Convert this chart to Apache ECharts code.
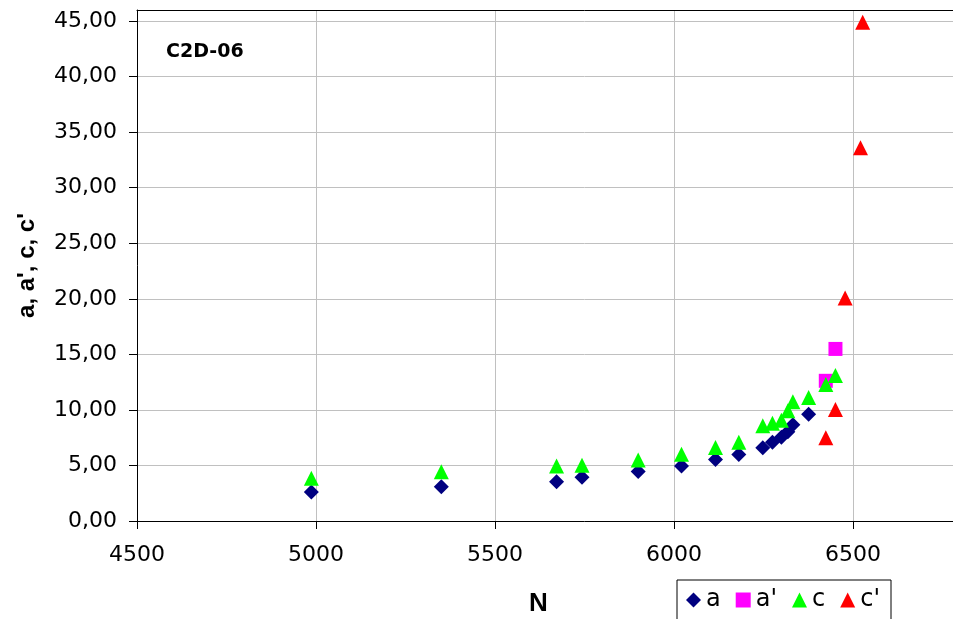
<!DOCTYPE html>
<html>
<head>
<meta charset="utf-8">
<script src="https://cdn.jsdelivr.net/npm/echarts@6/dist/echarts.min.js"></script>
<style>
  html, body { margin: 0; padding: 0; background: #ffffff; overflow: hidden; }
  /* the plot runs on past the right edge of the window */
  #chart { width: 1060px; height: 619px; }
</style>
</head>
<body>
<div id="chart"></div>
<script>
// Specimen C2D-06: a, a', c, c' against N
const nA   = [4987, 5350, 5672, 5743, 5900, 6021, 6116, 6181, 6248, 6275, 6300, 6318, 6332, 6376];
const aVals = [2.61, 3.08, 3.53, 3.93, 4.45, 4.95, 5.53, 5.98, 6.59, 7.08, 7.55, 8.03, 8.66, 9.62];

const nAp   = [6424, 6451];
const apVals = [12.62, 15.49];

const nC   = [4987, 5350, 5672, 5743, 5900, 6021, 6116, 6181, 6248, 6275, 6300, 6318, 6332, 6376, 6424, 6451];
const cVals = [3.85, 4.43, 4.95, 5.01, 5.50, 6.01, 6.61, 7.10, 8.57, 8.79, 9.08, 9.92, 10.73, 11.12, 12.29, 13.10];

const nCp   = [6424, 6451, 6478, 6521, 6527];
const cpVals = [7.49, 10.04, 20.08, 33.61, 44.90];

const seriesNames = ["a", "a'", "c", "c'"];
const xTicks = { min: 4500, max: 7000, step: 500 };
const yTicks = { min: 0, max: 46, step: 5 };

const TICK_FONT = "'DejaVu Sans', 'Liberation Sans', Arial, sans-serif";
const BOLD_FONT = "'Liberation Sans', Arial, sans-serif";

function pairs(xs, ys) { return xs.map((x, i) => [x, ys[i]]); }

const chart = echarts.init(document.getElementById('chart'));

chart.setOption({
  animation: false,
  grid: {
    left: 137, top: 10, width: 895, height: 511,
    containLabel: false,
    outerBoundsMode: 'none',
    show: false
  },
  xAxis: [
    {
      type: 'value',
      min: xTicks.min, max: xTicks.max, interval: xTicks.step,
      axisLine: { show: true, onZero: false, lineStyle: { color: '#000000', width: 1 } },
      axisTick: { show: true, inside: false, length: 8, lineStyle: { color: '#000000' } },
      axisLabel: {
        color: '#000000', fontFamily: TICK_FONT, fontSize: 22, margin: 23,
        formatter: v => String(v)
      },
      splitLine: { show: true, lineStyle: { color: '#c0c0c0', width: 1 } }
    },
    {
      // plain frame line along the top of the plot area
      type: 'value', position: 'top',
      min: xTicks.min, max: xTicks.max, interval: xTicks.step,
      axisLine: { show: true, onZero: false, lineStyle: { color: '#000000', width: 1 } },
      axisTick: { show: false }, axisLabel: { show: false }, splitLine: { show: false }
    }
  ],
  yAxis: {
    type: 'value',
    min: yTicks.min, max: yTicks.max, interval: yTicks.step,
    name: "a, a', c, c'",
    nameLocation: 'middle',
    nameGap: 98,
    nameRotate: 90,
    nameTextStyle: { color: '#000000', fontFamily: BOLD_FONT, fontSize: 24, fontWeight: 'bold' },
    axisLine: { show: true, onZero: false, lineStyle: { color: '#000000', width: 1 } },
    axisTick: { show: true, inside: false, length: 8, lineStyle: { color: '#000000' } },
    axisLabel: {
      color: '#000000', fontFamily: TICK_FONT, fontSize: 22, margin: 20,
      formatter: v => v.toFixed(2).replace('.', ','),
      showMaxLabel: false
    },
    splitLine: { show: true, lineStyle: { color: '#c0c0c0', width: 1 } }
  },
  legend: {
    data: seriesNames,
    left: 677, top: 580,
    orient: 'horizontal',
    itemWidth: 15, itemHeight: 15, itemGap: 15,
    padding: [8, 11, 30, 9],
    borderColor: '#000000', borderWidth: 1,
    backgroundColor: '#ffffff',
    textStyle: { color: '#000000', fontFamily: TICK_FONT, fontSize: 24, padding: [0, 0, 0, 0] }
  },
  graphic: [
    {
      type: 'text', left: 166, top: 43,
      style: { text: 'C2D-06', fill: '#000000', font: "bold 19px 'DejaVu Sans', sans-serif" }
    },
    {
      type: 'text', left: 529, top: 591,
      style: { text: 'N', fill: '#000000', font: "bold 26px 'Liberation Sans', Arial, sans-serif" }
    }
  ],
  series: [
    {
      name: "a", type: 'scatter', data: pairs(nA, aVals),
      symbol: 'diamond', symbolSize: 15,
      itemStyle: { color: '#000080', opacity: 1 }, z: 2
    },
    {
      name: "a'", type: 'scatter', data: pairs(nAp, apVals),
      symbol: 'rect', symbolSize: 14,
      itemStyle: { color: '#ff00ff', opacity: 1 }, z: 3
    },
    {
      name: "c", type: 'scatter', data: pairs(nC, cVals),
      symbol: 'triangle', symbolSize: 15,
      itemStyle: { color: '#00ff00', opacity: 1 }, z: 4
    },
    {
      name: "c'", type: 'scatter', data: pairs(nCp, cpVals),
      symbol: 'triangle', symbolSize: 15,
      itemStyle: { color: '#ff0000', opacity: 1 }, z: 5
    }
  ]
});
</script>
</body>
</html>
